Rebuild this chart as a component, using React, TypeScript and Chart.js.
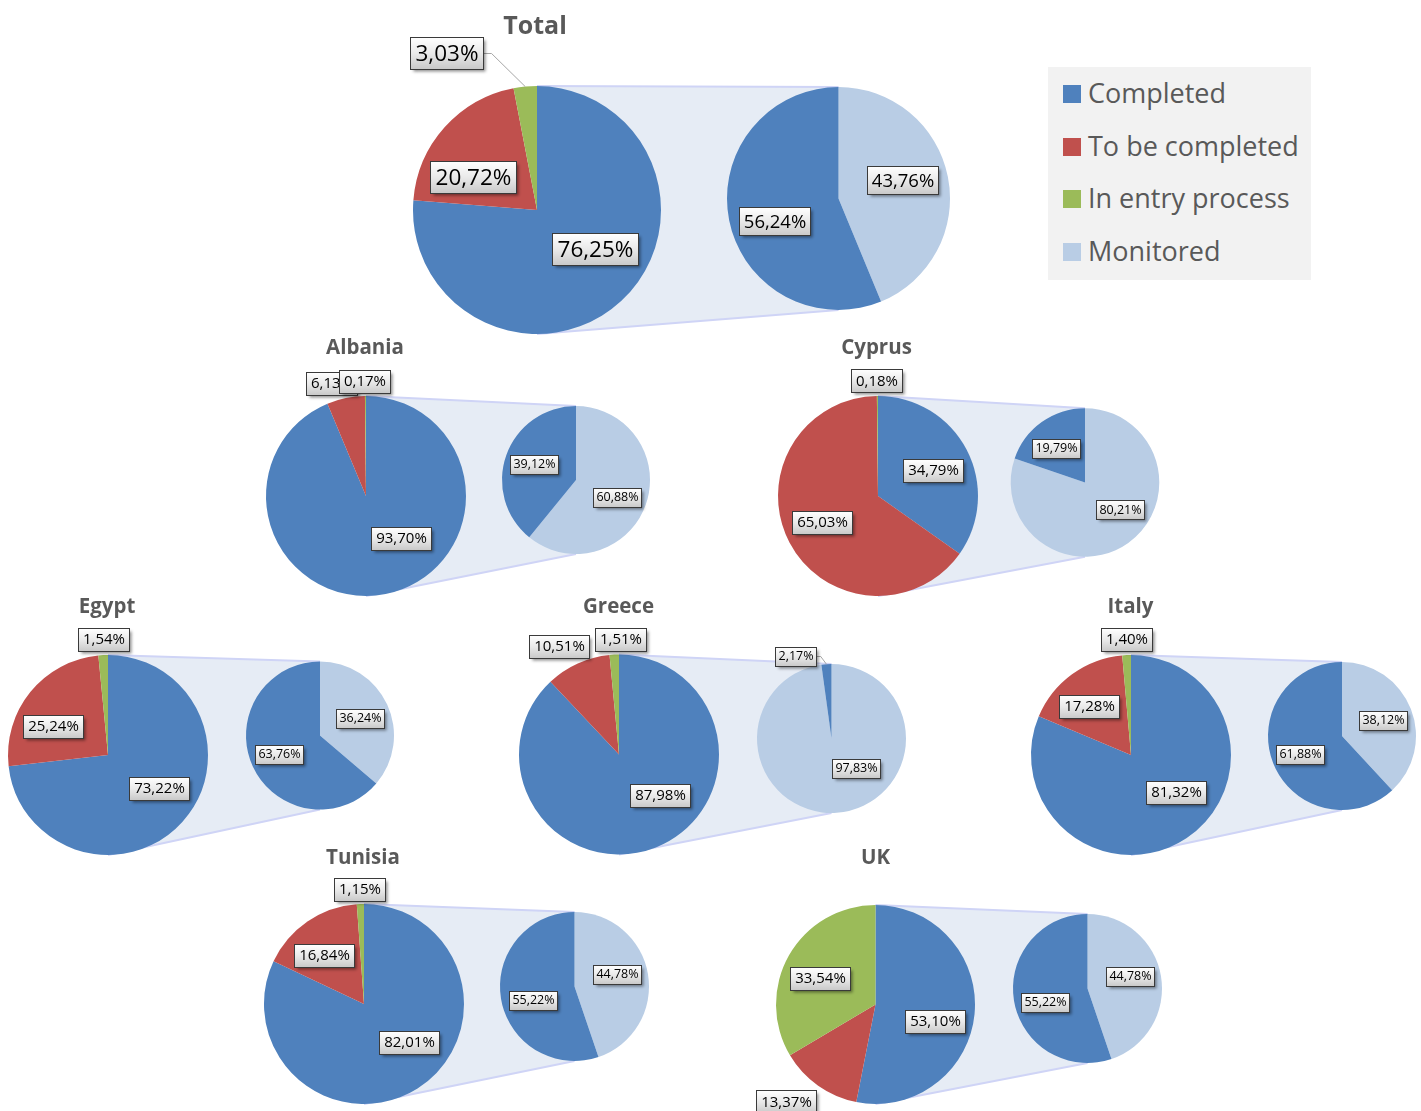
import React, { useEffect, useRef } from "react";
import { Chart, registerables } from "chart.js";

Chart.register(...registerables);

const PAGE_W = 1421;
const PAGE_H = 1111;

// ---------------- data ----------------
const countries = ["Total", "Albania", "Cyprus", "Egypt", "Greece", "Italy", "Tunisia", "UK"];
const primaryCategories = ["Completed", "To be completed", "In entry process"];
const secondaryCategories = ["Monitored", "Completed"];
const legendLabels = ["Completed", "To be completed", "In entry process", "Monitored"];

const completedPct = [76.25, 93.7, 34.79, 73.22, 87.98, 81.32, 82.01, 53.1];
const toBeCompletedPct = [20.72, 6.13, 65.03, 25.24, 10.51, 17.28, 16.84, 13.37];
const inEntryProcessPct = [3.03, 0.17, 0.18, 1.54, 1.51, 1.4, 1.15, 33.54];
const monitoredPct = [43.76, 60.88, 80.21, 36.24, 97.83, 38.12, 44.78, 44.78];
const completedUnmonitoredPct = [56.24, 39.12, 19.79, 63.76, 2.17, 61.88, 55.22, 55.22];

// ---------------- styles ----------------
const BLUE = "#4f81bd";
const RED = "#c0504d";
const GREEN = "#9bbb59";
const LIGHT = "#b9cde5";
const legendColors = [BLUE, RED, GREEN, LIGHT];
const FONT = "'Open Sans', 'Noto Sans', sans-serif";
const TITLE_COLOR = "#595959";

// ---------------- layout (page coordinates) ----------------
type Group = {
  primary: [number, number, number];
  secondary: [number, number, number];
  title: [number, number, number]; // x center, baseline, size
  pText: [number, number, number]; // font, box height, padding
  sText: [number, number, number];
  pLabel: number[][]; // label offsets from pie center
  sLabel: number[][];
  pLeader: number[];
  sLeader: number[];
};

const SMALL_P: [number, number, number] = [15, 23, 4.5];
const SMALL_S: [number, number, number] = [12.5, 19, 3];

const GROUPS: Group[] = [
  {
    primary: [537, 210, 124], secondary: [838.5, 198.5, 111.5], title: [535, 34, 25],
    pText: [22.5, 32, 5], sText: [18.5, 28, 4.5],
    pLabel: [[58, 39], [-64, -33], [-91, -157]], sLabel: [[63.5, -18.5], [-64.5, 22.5]],
    pLeader: [2], sLeader: [],
  },
  {
    primary: [366, 496, 100], secondary: [576, 480, 74], title: [365, 354, 20.5],
    pText: SMALL_P, sText: SMALL_S,
    pLabel: [[35, 42], [-34.5, -113], [-1.5, -115]], sLabel: [[41, 17], [-42, -16]],
    pLeader: [], sLeader: [],
  },
  {
    primary: [878, 496, 100], secondary: [1085, 482.5, 74.3], title: [876.5, 354, 20.5],
    pText: SMALL_P, sText: SMALL_S,
    pLabel: [[55, -26], [-56, 26], [-1.5, -115.5]], sLabel: [[34.5, 27], [-29.5, -34.5]],
    pLeader: [], sLeader: [],
  },
  {
    primary: [108, 755, 100], secondary: [320, 735.5, 74], title: [107, 613, 20.5],
    pText: SMALL_P, sText: SMALL_S,
    pLabel: [[51, 33], [-55, -29], [-5, -116]], sLabel: [[40, -17.5], [-41, 18.5]],
    pLeader: [], sLeader: [],
  },
  {
    primary: [619, 754.5, 100], secondary: [831.5, 738.5, 74.5], title: [618.5, 613, 20.5],
    pText: SMALL_P, sText: SMALL_S,
    pLabel: [[40.5, 40.5], [-60, -108.5], [1.3, -115.5]], sLabel: [[24, 29.5], [-36.5, -82.5]],
    pLeader: [], sLeader: [1],
  },
  {
    primary: [1131, 755, 100], secondary: [1342, 736, 74], title: [1130.5, 613, 20.5],
    pText: SMALL_P, sText: SMALL_S,
    pLabel: [[45, 37], [-42, -49], [-5, -116]], sLabel: [[41, -16], [-42, 18]],
    pLeader: [], sLeader: [],
  },
  {
    primary: [364, 1004, 100], secondary: [574.5, 986.5, 74.5], title: [363, 864, 20.5],
    pText: SMALL_P, sText: SMALL_S,
    pLabel: [[45, 38], [-40, -49], [-5, -115]], sLabel: [[42.5, -12.5], [-41.5, 13.5]],
    pLeader: [], sLeader: [],
  },
  {
    primary: [875.5, 1004.5, 99.5], secondary: [1087.5, 988.5, 74.5], title: [875.5, 864, 20.5],
    pText: SMALL_P, sText: SMALL_S,
    pLabel: [[59, 16.5], [-89.5, 97], [-56, -26.5]], sLabel: [[42.5, -12.5], [-43, 13.5]],
    pLeader: [], sLeader: [],
  },
];

const fmt = (v: number) => v.toFixed(2).replace(".", ",") + "%";

function groupBox(g: Group) {
  const [pcx, pcy, pr] = g.primary;
  const [scx, , sr] = g.secondary;
  return {
    x0: Math.max(0, Math.floor(pcx - pr - 130)),
    x1: Math.min(PAGE_W, Math.ceil(scx + sr + 8)),
    y0: Math.max(0, Math.floor(g.title[1] - 35)),
    y1: Math.min(PAGE_H, Math.ceil(pcy + pr + 40)),
  };
}

function drawBox(ctx: CanvasRenderingContext2D, text: string, cx: number, cy: number, font: number, boxH: number, pad: number) {
  ctx.font = `${font}px ${FONT}`;
  const w = Math.round(ctx.measureText(text).width + 2 * pad);
  const h = boxH;
  const x = Math.round(cx - w / 2) + 0.5;
  const y = Math.round(cy - h / 2) + 0.5;
  ctx.save();
  ctx.shadowColor = "rgba(0,0,0,0.45)";
  ctx.shadowBlur = 3;
  ctx.shadowOffsetX = 2;
  ctx.shadowOffsetY = 2;
  const grad = ctx.createLinearGradient(0, y, 0, y + h);
  grad.addColorStop(0, "#ffffff");
  grad.addColorStop(0.5, "#e9e9e9");
  grad.addColorStop(1, "#c8c8c8");
  ctx.fillStyle = grad;
  ctx.fillRect(x, y, w, h);
  ctx.restore();
  ctx.strokeStyle = "#3a3a3a";
  ctx.lineWidth = 1;
  ctx.strokeRect(x, y, w, h);
  ctx.fillStyle = "#000000";
  ctx.textAlign = "center";
  ctx.textBaseline = "alphabetic";
  ctx.fillText(text, x + w / 2, cy + 0.357 * font);
  return { x, y, w, h };
}

function labelPlugin(offsets: number[][], text: [number, number, number], leaders: number[]) {
  return {
    id: "sliceLabels",
    afterDatasetsDraw(chart: any) {
      const ctx: CanvasRenderingContext2D = chart.ctx;
      const meta = chart.getDatasetMeta(0);
      const values = chart.data.datasets[0].data as number[];
      const [font, boxH, pad] = text;
      meta.data.forEach((el: any, i: number) => {
        const [dx, dy] = offsets[i];
        const cx = el.x + dx;
        const cy = el.y + dy;
        const label = fmt(values[i]);
        ctx.save();
        if (leaders.includes(i)) {
          ctx.font = `${font}px ${FONT}`;
          const w = Math.round(ctx.measureText(label).width + 2 * pad);
          const bx = Math.round(cx - w / 2) + w;
          const mid = (el.startAngle + el.endAngle) / 2;
          const tx = el.x + Math.cos(mid) * el.outerRadius;
          const ty = el.y + Math.sin(mid) * el.outerRadius;
          ctx.strokeStyle = "#a6a6a6";
          ctx.lineWidth = 1;
          ctx.beginPath();
          ctx.moveTo(bx, Math.round(cy) + 0.5);
          ctx.lineTo(bx + 0.38 * font, Math.round(cy) + 0.5);
          ctx.lineTo(tx, ty);
          ctx.stroke();
        }
        drawBox(ctx, label, cx, cy, font, boxH, pad);
        ctx.restore();
      });
    },
  };
}

function bandPlugin(secondary: Chart) {
  return {
    id: "band",
    beforeDatasetsDraw(chart: any) {
      const ctx: CanvasRenderingContext2D = chart.ctx;
      const p: any = chart.getDatasetMeta(0).data[0];
      const s: any = secondary.getDatasetMeta(0).data[0];
      if (!p || !s) return;
      const a = [p.x, p.y - p.outerRadius];
      const b = [s.x, s.y - s.outerRadius];
      const c = [s.x, s.y + s.outerRadius];
      const d = [p.x, p.y + p.outerRadius];
      ctx.save();
      ctx.fillStyle = "#e6ecf5";
      ctx.beginPath();
      ctx.moveTo(a[0], a[1]);
      ctx.lineTo(b[0], b[1]);
      ctx.lineTo(c[0], c[1]);
      ctx.lineTo(d[0], d[1]);
      ctx.closePath();
      ctx.fill();
      ctx.strokeStyle = "#cfd4f6";
      ctx.lineWidth = 2;
      ctx.beginPath();
      ctx.moveTo(a[0], a[1]);
      ctx.lineTo(b[0], b[1]);
      ctx.moveTo(d[0], d[1]);
      ctx.lineTo(c[0], c[1]);
      ctx.stroke();
      ctx.restore();
    },
  };
}

function titlePlugin(name: string, x: number, base: number, size: number) {
  return {
    id: "groupTitle",
    afterDraw(chart: any) {
      const ctx: CanvasRenderingContext2D = chart.ctx;
      ctx.save();
      ctx.font = `700 ${size}px ${FONT}`;
      ctx.fillStyle = TITLE_COLOR;
      ctx.textAlign = "center";
      ctx.textBaseline = "alphabetic";
      ctx.fillText(name, x, base);
      ctx.restore();
    },
  };
}

function PieOfPie({ idx }: { idx: number }) {
  const g = GROUPS[idx];
  const box = groupBox(g);
  const w = box.x1 - box.x0;
  const h = box.y1 - box.y0;
  const pRef = useRef<HTMLCanvasElement>(null);
  const sRef = useRef<HTMLCanvasElement>(null);

  useEffect(() => {
    const padFor = (cx: number, cy: number, r: number) => ({
      left: cx - box.x0 - r,
      right: box.x1 - cx - r,
      top: cy - box.y0 - r,
      bottom: box.y1 - cy - r,
    });
    const [pcx, pcy, pr] = g.primary;
    const [scx, scy, sr] = g.secondary;
    const common = {
      responsive: false,
      animation: false as const,
      devicePixelRatio: 1,
      events: [] as any[],
      plugins: { legend: { display: false }, tooltip: { enabled: false }, title: { display: false } },
    };

    const secondary = new Chart(sRef.current!, {
      type: "pie",
      data: {
        labels: secondaryCategories,
        datasets: [
          {
            data: [monitoredPct[idx], completedUnmonitoredPct[idx]],
            backgroundColor: [LIGHT, BLUE],
            borderWidth: 0,
            hoverOffset: 0,
            hoverBorderWidth: 0,
            radius: sr,
          } as any,
        ],
      },
      options: { ...common, radius: sr, layout: { padding: padFor(scx, scy, sr) } } as any,
      plugins: [labelPlugin(g.sLabel, g.sText, g.sLeader)],
    });

    const primary = new Chart(pRef.current!, {
      type: "pie",
      data: {
        labels: primaryCategories,
        datasets: [
          {
            data: [completedPct[idx], toBeCompletedPct[idx], inEntryProcessPct[idx]],
            backgroundColor: [BLUE, RED, GREEN],
            borderWidth: 0,
            hoverOffset: 0,
            hoverBorderWidth: 0,
            radius: pr,
          } as any,
        ],
      },
      options: { ...common, radius: pr, layout: { padding: padFor(pcx, pcy, pr) } } as any,
      plugins: [
        bandPlugin(secondary),
        labelPlugin(g.pLabel, g.pText, g.pLeader),
        titlePlugin(countries[idx], g.title[0] - box.x0, g.title[1] - box.y0, g.title[2]),
      ],
    });

    return () => {
      primary.destroy();
      secondary.destroy();
    };
  }, [idx]);

  const style = (z: number): React.CSSProperties => ({
    position: "absolute",
    left: box.x0,
    top: box.y0,
    width: w,
    height: h,
    zIndex: z,
  });

  return (
    <>
      <canvas ref={pRef} width={w} height={h} style={style(1)} />
      <canvas ref={sRef} width={w} height={h} style={style(2)} />
    </>
  );
}

function Legend() {
  const baselines = [103, 155.5, 208, 261];
  const fs = 27;
  return (
    <div
      style={{
        position: "absolute",
        left: 1048,
        top: 67,
        width: 263,
        height: 213,
        background: "#f2f2f2",
        zIndex: 3,
      }}
    >
      {legendLabels.map((lab, i) => (
        <React.Fragment key={lab}>
          <div
            style={{
              position: "absolute",
              left: 15,
              top: baselines[i] - 67 - 18,
              width: 18,
              height: 18,
              background: legendColors[i],
            }}
          />
          <div
            style={{
              position: "absolute",
              left: 40,
              top: baselines[i] - 67 - 24,
              fontFamily: FONT,
              fontSize: fs,
              lineHeight: 1,
              color: TITLE_COLOR,
              whiteSpace: "nowrap",
            }}
          >
            {lab}
          </div>
        </React.Fragment>
      ))}
    </div>
  );
}

export default function App() {
  return (
    <div
      style={{
        position: "absolute",
        left: 0,
        top: 0,
        width: PAGE_W,
        height: PAGE_H,
        overflow: "hidden",
        background: "#ffffff",
      }}
    >
      {countries.map((c, i) => (
        <PieOfPie key={c} idx={i} />
      ))}
      <Legend />
    </div>
  );
}
